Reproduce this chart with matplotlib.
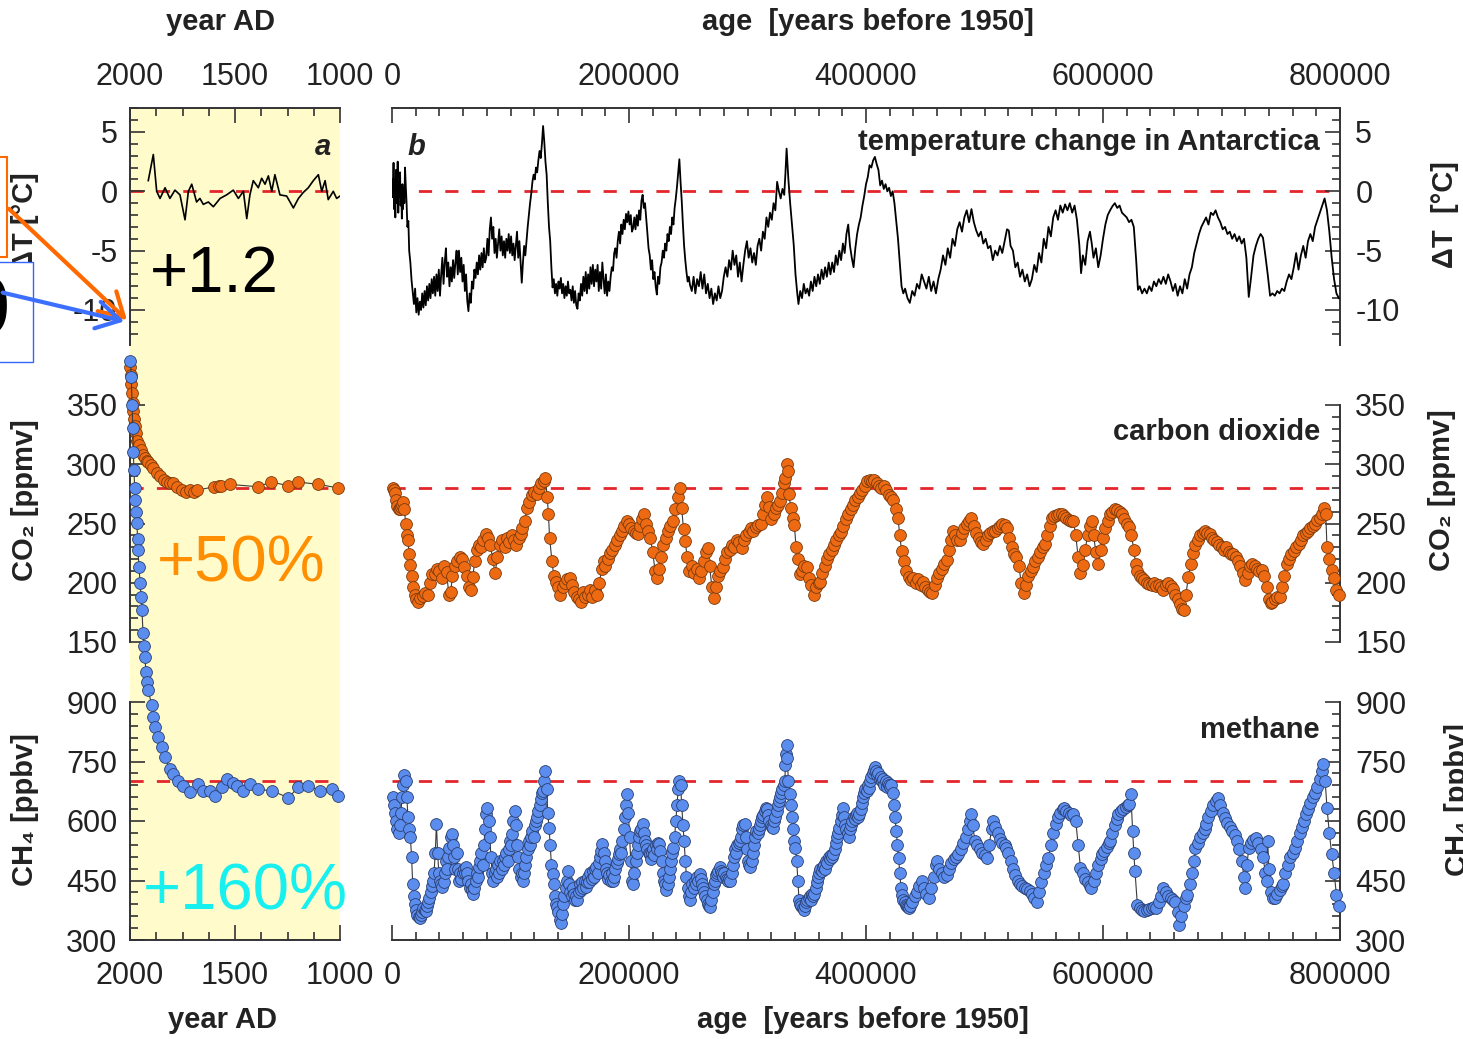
import numpy as np
import matplotlib
matplotlib.use("Agg")
import matplotlib.pyplot as plt
from matplotlib import ticker
from matplotlib.patches import Rectangle, FancyArrowPatch

plt.rcParams['font.family'] = ['Liberation Sans', 'DejaVu Sans']
plt.rcParams['axes.unicode_minus'] = False
plt.rcParams['lines.scale_dashes'] = False

W, H = 1463, 1039

# ---------------- datos ----------------
# panel a: (año AD, valor)
temp_a = [(1913, 0.9), (1889, 3.1), (1873, 0.0), (1857, -0.6), (1833, 0.3), (1810, -0.6),
          (1786, 0.1), (1762, -0.3), (1738, -2.4), (1722, 0.0), (1706, 0.6), (1683, -0.9),
          (1667, -0.6), (1651, -1.1), (1627, -0.9), (1603, -1.3), (1571, -0.6), (1540, -0.3),
          (1508, 0.1), (1484, -0.6), (1460, 0.0), (1444, -2.3), (1429, -0.3), (1413, 0.9),
          (1389, 0.3), (1373, 1.1), (1357, 0.6), (1341, 1.3), (1325, 0.0), (1310, 1.4),
          (1286, -0.3), (1254, -0.4), (1222, -1.4), (1198, -0.6), (1175, -0.1), (1151, 0.3),
          (1127, 0.9), (1103, 1.4), (1087, 0.0), (1071, 0.9), (1056, -0.7), (1032, 0.0),
          (1016, -0.6), (1000, -0.4)]

co2_a = [(2000, 382), (1997, 375), (1994, 368), (1991, 360), (1988, 352), (1985, 345),
         (1982, 338), (1978, 332), (1972, 326), (1966, 320), (1958, 316), (1950, 312),
         (1940, 308), (1930, 305), (1920, 303), (1913, 302), (1900, 299), (1889, 297),
         (1872, 293), (1857, 290), (1840, 287), (1825, 285), (1810, 284), (1794, 284),
         (1775, 281), (1754, 278), (1735, 277), (1714, 278), (1695, 277), (1683, 278),
         (1600, 281), (1576, 282), (1565, 282), (1524, 283), (1389, 281), (1330, 285),
         (1246, 282), (1198, 285), (1103, 283), (1008, 280)]

ch4_a = [(1998, 1760), (1994, 1720), (1990, 1650), (1987, 1590), (1984, 1530), (1981, 1484),
         (1978, 1440), (1975, 1409), (1971, 1380), (1967, 1351), (1964, 1310), (1962, 1283),
         (1957, 1240), (1952, 1200), (1947, 1165), (1943, 1132), (1938, 1074), (1933, 1040),
         (1929, 1013), (1924, 975), (1919, 950), (1913, 930), (1897, 892), (1889, 862),
         (1881, 837), (1865, 811), (1849, 786), (1833, 761), (1810, 731), (1794, 718),
         (1770, 701), (1746, 689), (1714, 672), (1675, 693), (1651, 676), (1619, 676),
         (1595, 663), (1563, 685), (1540, 706), (1508, 697), (1492, 689), (1460, 676),
         (1429, 693), (1389, 680), (1325, 676), (1246, 659), (1198, 685), (1151, 689),
         (1095, 676), (1040, 680), (1008, 663)]

# panel b: (edad en miles de años, valor)
temp_b = [(0.2, 1.0), (0.8, -0.5), (1.3, 2.4), (1.8, -1.5), (2.3, 1.0), (2.8, -2.2), (3.3, 1.8),
          (3.8, -1.0), (4.3, 0.5), (4.8, 2.5), (5.3, -1.8), (5.8, 0.8), (6.3, -0.5), (6.8, 1.6),
          (7.3, -1.2), (7.8, 0.3), (8.3, -2.3), (8.8, 0.6), (9.3, -1.5), (9.8, 0.2), (10.4, -1.0),
          (11.0, 2.0), (11.6, 0.5), (12.3, -1.0), (13.0, -3.0), (13.8, -2.5), (14.5, -5.0),
          (15.5, -6.0), (16.5, -7.5), (17.5, -8.5), (18.5, -9.5), (19.5, -8.2), (20.5, -10.2),
          (21.5, -9.0), (22.5, -10.4), (23.5, -9.3), (24.5, -10.0), (25.5, -8.6), (26.5, -9.8),
          (27.5, -8.4), (28.5, -9.6), (29.5, -8.0), (30.5, -9.2), (31.5, -7.8), (32.5, -9.0),
          (33.5, -7.4), (34.5, -8.6), (35.5, -7.2), (36.5, -8.8), (37.5, -7.0), (38.5, -8.4),
          (39.5, -6.6), (40.5, -8.8), (41.5, -7.0), (42.5, -5.6), (43.5, -7.8), (44.5, -6.0),
          (45.5, -4.8), (46.5, -7.2), (47.5, -6.0), (48.5, -8.0), (49.5, -6.4), (50.5, -7.6),
          (51.5, -5.8), (52.5, -7.3), (53.5, -6.0), (54.5, -5.0), (55.5, -7.0), (56.5, -5.0),
          (57.5, -6.8), (58.5, -5.6), (59.5, -7.6), (60.5, -6.2), (61.5, -8.4), (62.5, -7.0),
          (63.5, -9.2), (64.5, -10.1), (65.5, -8.6), (66.5, -9.4), (67.5, -7.6), (68.5, -8.2),
          (69.5, -6.6), (70.5, -7.3), (71.5, -6.0), (72.5, -7.0), (73.5, -5.4), (74.5, -6.6),
          (75.5, -5.2), (76.5, -6.4), (77.5, -4.8), (78.5, -6.0), (79.5, -5.6), (80.5, -4.0),
          (81.5, -5.4), (82.5, -3.2), (83.5, -2.2), (84.5, -4.0), (85.5, -3.0), (86.5, -5.2),
          (87.5, -4.0), (88.5, -5.6), (89.5, -4.4), (90.5, -3.2), (91.5, -5.0), (92.5, -3.8),
          (93.5, -5.4), (94.5, -4.2), (95.5, -5.6), (96.5, -4.0), (97.5, -5.0), (98.5, -3.6),
          (99.5, -5.2), (100.5, -3.8), (101.5, -5.4), (102.5, -4.4), (103.5, -5.8), (104.5, -4.6),
          (105.5, -3.4), (106.5, -5.6), (107.5, -4.2), (108.5, -6.0), (109.5, -7.7), (110.5, -6.0),
          (111.5, -4.6), (112.5, -5.4), (113.5, -4.2), (114.5, -3.0), (115.5, -2.0), (116.5, -1.0),
          (117.5, -0.2), (118.5, 0.8), (119.5, 1.4), (120.5, 1.0), (121.5, 2.0), (122.5, 1.6),
          (123.5, 2.6), (124.5, 3.4), (125.5, 2.8), (126.5, 4.0), (127.5, 5.5), (128.5, 4.2),
          (129.5, 2.5), (130.5, 1.4), (131.5, -1.0), (132.5, -3.0), (133.5, -4.2), (134.5, -6.4),
          (135.5, -8.1), (136.5, -7.4), (137.5, -8.6), (138.5, -7.8), (139.5, -8.8), (140.5, -7.6),
          (141.5, -8.2), (142.5, -7.3), (143.5, -8.6), (144.5, -7.8), (145.5, -9.0), (146.5, -8.0),
          (147.5, -8.8), (148.5, -7.6), (149.5, -8.6), (150.5, -8.3), (151.5, -9.2), (152.5, -8.0),
          (153.5, -9.4), (154.5, -8.4), (155.5, -9.6), (156.5, -9.9), (157.5, -8.6), (158.5, -9.2),
          (159.5, -7.8), (160.5, -8.8), (161.5, -7.2), (162.5, -8.4), (163.5, -6.8), (164.5, -8.6),
          (165.5, -7.0), (166.5, -8.2), (167.5, -6.4), (168.5, -7.8), (169.5, -6.2), (170.5, -8.0),
          (171.5, -6.6), (172.5, -7.6), (173.5, -6.2), (174.5, -8.4), (175.5, -6.8), (176.5, -8.2),
          (177.5, -6.0), (178.5, -7.4), (179.5, -8.6), (180.5, -7.0), (181.5, -8.8), (182.5, -7.6),
          (183.5, -8.4), (184.5, -7.2), (185.5, -6.4), (186.5, -6.7), (187.5, -5.2), (188.5, -4.8),
          (189.5, -5.6), (190.5, -4.2), (191.5, -3.4), (192.5, -4.4), (193.5, -2.8), (194.5, -3.6),
          (195.5, -2.4), (196.5, -3.2), (197.5, -1.9), (198.5, -2.6), (199.5, -1.7), (200.5, -2.8),
          (201.5, -2.0), (202.5, -3.4), (203.5, -3.1), (204.5, -2.2), (205.5, -3.2), (206.5, -2.0),
          (207.5, -2.9), (208.5, -1.6), (209.5, -2.4), (210.5, -0.8), (211.5, -0.3), (212.5, -1.4),
          (213.5, -1.0), (214.5, -2.2), (215.5, -3.5), (216.5, -4.8), (217.5, -5.4), (218.5, -6.6),
          (219.5, -5.8), (220.5, -7.4), (221.5, -6.8), (222.5, -8.0), (223.5, -8.7), (224.5, -7.2),
          (225.5, -7.8), (226.5, -6.4), (227.5, -6.0), (228.5, -5.0), (229.5, -5.6), (230.5, -4.4),
          (231.5, -5.0), (232.5, -3.6), (233.5, -4.2), (234.5, -3.0), (235.5, -3.6), (236.5, -2.2),
          (237.5, -2.8), (238.5, -1.4), (239.5, -0.6), (240.5, 0.4), (241.5, 1.6), (242.5, 2.7),
          (243.5, 0.8), (244.5, -0.8), (245.5, -2.8), (246.5, -4.6), (247.5, -5.8), (248.5, -6.8),
          (249.5, -7.6), (250.5, -7.2), (251.5, -7.9), (253.0, -8.4), (254.5, -7.2), (256.0, -8.6),
          (257.5, -7.4), (259.0, -8.0), (260.5, -6.8), (262.0, -8.2), (263.5, -7.0), (265.0, -8.6),
          (266.5, -7.8), (268.0, -9.0), (269.5, -8.2), (271.0, -9.5), (272.5, -8.6), (274.0, -9.2),
          (275.5, -8.0), (277.0, -9.0), (278.5, -8.4), (280.0, -7.2), (281.5, -6.4), (283.0, -7.2),
          (284.5, -5.8), (286.0, -6.6), (287.5, -5.0), (289.0, -6.2), (290.5, -5.4), (292.0, -7.2),
          (293.5, -6.0), (295.0, -7.6), (296.5, -6.2), (298.0, -5.0), (299.5, -4.2), (301.0, -5.6),
          (302.5, -4.8), (304.0, -6.0), (305.5, -5.2), (307.0, -6.2), (308.5, -4.6), (310.0, -4.0),
          (311.5, -5.0), (313.0, -3.4), (314.5, -4.0), (316.0, -2.2), (317.5, -3.0), (319.0, -1.8),
          (320.5, -2.4), (322.0, -1.0), (323.5, -1.6), (325.0, 0.8), (326.5, 0.0), (328.0, -0.6),
          (329.5, 0.2), (331.0, -0.3), (332.0, 1.5), (333.0, 3.6), (334.5, 1.0), (336.0, -1.0),
          (337.5, -2.8), (339.0, -4.5), (340.5, -7.0), (342.0, -8.6), (343.0, -9.5), (344.5, -8.4),
          (346.0, -9.0), (347.5, -7.8), (349.0, -8.6), (350.5, -8.2), (352.0, -8.8), (353.5, -7.6),
          (355.0, -8.4), (356.5, -7.2), (358.0, -8.0), (359.5, -7.0), (361.0, -7.8), (362.5, -6.6),
          (364.0, -7.4), (365.5, -6.4), (367.0, -7.2), (368.5, -6.0), (370.0, -7.0), (371.5, -6.0),
          (373.0, -6.8), (374.5, -5.4), (376.0, -6.2), (377.5, -5.0), (379.0, -5.8), (380.5, -4.4),
          (382.0, -5.2), (383.5, -3.6), (385.0, -2.8), (386.5, -4.6), (388.0, -5.6), (389.5, -6.4),
          (391.0, -4.8), (392.5, -3.6), (394.0, -2.8), (395.5, -2.2), (397.0, -1.2), (398.5, -0.4),
          (400.0, 0.6), (401.5, 1.2), (403.0, 2.2), (404.5, 2.0), (406.0, 2.6), (407.5, 2.9),
          (409.0, 2.3), (410.5, 1.8), (412.0, 0.5), (413.5, 0.9), (415.0, 0.2), (416.5, 0.6),
          (418.0, 0.0), (419.5, 0.3), (421.0, -0.4), (422.5, 0.0), (424.0, -1.0), (425.5, -2.5),
          (427.0, -4.0), (428.5, -6.0), (430.0, -8.0), (431.5, -8.6), (433.0, -8.2), (435.0, -9.0),
          (437.0, -9.4), (439, -8.4), (441, -8.8), (443, -7.8), (445, -8.2), (447, -7.0), (449, -7.6),
          (451, -8.2), (453, -7.2), (455, -8.4), (457, -7.6), (459, -8.6), (461, -7.4), (463, -6.6),
          (465, -5.4), (467, -6.2), (469, -4.8), (471, -5.6), (473, -4.0), (475, -4.6), (477, -3.2),
          (479, -2.6), (481, -3.4), (483, -2.2), (485, -1.6), (487, -2.6), (489, -1.5), (491, -2.6),
          (493, -3.3), (495, -3.8), (497, -3.4), (499, -4.4), (501, -4.0), (503, -4.8), (505, -4.6),
          (507, -5.8), (509, -5.0), (511, -5.4), (513, -4.6), (515, -5.2), (517, -4.2), (519, -3.2),
          (520.5, -3.3), (522, -4.6), (524, -5.0), (526, -6.4), (528, -6.0), (530, -7.2), (532, -6.6),
          (534, -7.6), (536, -7.0), (538, -8.0), (540, -7.4), (542, -6.2), (544, -6.8), (546, -5.2),
          (548, -6.0), (550, -4.0), (552, -4.8), (554, -3.0), (556, -3.8), (558, -2.2), (560, -1.6),
          (562, -2.4), (564, -1.2), (566, -1.8), (568, -1.1), (570, -1.6), (572, -1.0), (574, -1.8),
          (576, -1.2), (578, -2.4), (580, -4.5), (581.5, -6.9), (583, -5.4), (585, -6.2), (587, -4.2),
          (589, -3.4), (590.5, -4.4), (592, -5.6), (594, -4.8), (596, -6.4), (598, -5.4), (600, -4.0),
          (602, -2.8), (604, -2.0), (606, -1.6), (608, -1.25), (610, -1.0), (612, -1.4), (614, -1.2),
          (616, -1.8), (618, -2.0), (620, -2.2), (622, -2.6), (624, -2.4), (626, -3.0), (628, -5.8),
          (629.5, -8.3), (631, -8.0), (633, -8.6), (635, -8.2), (637, -8.6), (639, -8.0), (641, -8.4),
          (643, -7.6), (645, -8.0), (647, -7.4), (649, -7.8), (651, -7.2), (653, -7.8), (655, -7.0),
          (657, -7.6), (659, -8.4), (661, -7.8), (663, -8.8), (665, -8.0), (667, -8.6), (669, -7.4),
          (671, -8.2), (673, -7.0), (675, -6.4), (677, -5.2), (679, -4.4), (681, -3.6), (683, -3.0),
          (685, -2.6), (687, -2.2), (689, -2.8), (691, -1.8), (693, -2.0), (695, -1.6), (697, -2.2),
          (699, -2.6), (701, -3.2), (703, -3.0), (705, -3.6), (707, -3.4), (709, -4.0), (711, -3.6),
          (713, -4.2), (715, -3.8), (717, -4.4), (719, -4.0), (721, -5.6), (723, -8.9), (725, -7.2),
          (727, -5.4), (729, -4.6), (731, -4.0), (733, -3.6), (735, -3.9), (737, -5.4), (739, -7.0),
          (741, -8.8), (743, -8.6), (745, -8.8), (747, -8.4), (749, -8.6), (751, -8.2), (753, -8.4),
          (755, -7.6), (757, -7.0), (759, -7.4), (761, -6.4), (763, -5.2), (765, -6.6), (767, -5.4),
          (769, -4.6), (771, -5.6), (773, -4.2), (775, -3.6), (777, -4.2), (779, -3.0), (781, -2.4),
          (783, -1.8), (785, -1.2), (787, -0.6), (789, -1.6), (791, -3.4), (793, -5.6), (795, -7.4),
          (797, -8.6), (799, -9.0)]

co2_b = [(0.5, 280), (1.5, 278), (2.5, 276), (3.5, 270), (4.5, 265), (5.5, 262), (6.5, 262),
         (7.5, 264), (8.5, 266), (9.5, 268), (10.5, 262), (11.5, 250), (12.5, 240), (13.5, 236),
         (14.5, 224), (15.5, 215), (16.5, 206), (17.5, 196), (19, 190), (20.5, 186), (22, 184),
         (24, 187), (26, 189), (28, 191), (30, 190), (32, 200), (34, 207), (36, 207), (38, 212),
         (40, 210), (42, 204), (44, 214), (46, 209), (48, 190), (49.5, 192), (51, 206), (53, 214),
         (55, 218), (57, 222), (59, 220), (61, 213), (63, 206), (65, 196), (66.5, 194), (68, 205),
         (70, 218), (71.5, 228), (73, 232), (75, 230), (77, 236), (79, 241), (81, 238), (83, 232),
         (85, 220), (87, 208), (89, 222), (91, 232), (93, 236), (95, 230), (97, 238), (99, 234),
         (101, 240), (103, 236), (105, 232), (107, 238), (108.5, 241), (110, 246), (112, 252),
         (114, 263), (116, 268), (118, 274), (120, 277), (122, 275), (124, 280), (126, 284),
         (128, 286), (129.5, 288), (131, 272), (132, 258), (133, 238), (135, 218), (136.5, 206),
         (138, 201), (140, 196), (142, 190), (144, 196), (146, 200), (148, 203), (150, 204),
         (152, 198), (154, 192), (156, 188), (158, 186), (159.5, 184), (161, 192), (163, 188),
         (165, 190), (167, 194), (169, 188), (171, 194), (173, 190), (175, 200), (177, 212),
         (178.5, 218), (180, 214), (182, 220), (184, 225), (186, 228), (188, 232), (190, 236),
         (192, 240), (194, 244), (196, 248), (198, 252), (200, 250), (202, 246), (204, 244),
         (206, 242), (207.5, 241), (209, 248), (211, 254), (212.5, 258), (214, 250), (216, 244),
         (218, 238), (220, 226), (222, 210), (223.5, 204), (225, 212), (227, 222), (229, 232),
         (231, 238), (233, 244), (235, 248), (237, 252), (239, 262), (241, 272), (243, 280),
         (244.5, 263), (246, 245), (247.5, 235), (249, 222), (251, 210), (253, 214), (255, 208),
         (257, 212), (259, 204), (261, 210), (263, 218), (265, 226), (266.5, 229), (268, 214),
         (270, 196), (271.5, 187), (273, 196), (275, 206), (277, 210), (279, 213), (281, 220),
         (283, 226), (285, 228), (287, 232), (289, 230), (291, 236), (293, 234), (295, 229),
         (297, 236), (299, 240), (301, 243), (303, 246), (305, 244), (307, 247), (309, 249),
         (311, 250), (313, 258), (315, 266), (316.5, 272), (318, 264), (320, 254), (322, 258),
         (324, 263), (326, 266), (327.5, 269), (329, 276), (331, 284), (332, 288), (333, 300),
         (334, 294), (335, 275), (336.5, 263), (338, 255), (339.5, 249), (341, 230), (342.5, 220),
         (344, 207), (346, 210), (348, 214), (350, 213), (352, 204), (354, 198), (356, 190),
         (358, 196), (360, 200), (361.5, 201), (363, 208), (365, 214), (367, 220), (369, 224),
         (371, 228), (373, 232), (375, 236), (377, 240), (379, 243), (381, 248), (383, 254),
         (385, 258), (387, 262), (389, 266), (391, 270), (393, 272), (395, 276), (397, 278),
         (399, 282), (401, 286), (403, 287), (405, 286), (407, 287), (409, 284), (411, 282),
         (413, 280), (415, 282), (417, 278), (419, 274), (421, 272), (423, 270), (425, 262),
         (427, 255), (428.5, 240), (430, 227), (432, 218), (434, 210), (436, 205), (438, 202),
         (440, 204), (442, 200), (444, 203), (446, 198), (448, 201), (450, 196), (452, 194),
         (454, 192), (456, 191), (458, 198), (460, 204), (462, 208), (464, 212), (466, 216),
         (468, 219), (470, 228), (471.5, 236), (473, 244), (475, 240), (477, 236), (479, 236),
         (481, 242), (483, 246), (485, 250), (487, 252), (489, 255), (491, 248), (493, 242),
         (495, 238), (497, 234), (499, 233), (501, 236), (503, 240), (505, 242), (507, 244),
         (509, 244), (511, 246), (513, 248), (515, 250), (517, 249), (519, 246), (521, 238),
         (523, 230), (525, 224), (527, 222), (529, 214), (531, 200), (533, 191), (535, 198),
         (537, 206), (539, 210), (541, 213), (543, 218), (545, 222), (547, 226), (549, 230),
         (551, 233), (553, 240), (555, 248), (557, 255), (559, 256), (561, 257), (563, 258),
         (565, 258), (567, 256), (569, 255), (571, 253), (573, 252), (575, 252), (577, 240),
         (579, 222), (581, 208), (583, 215), (585, 228), (587, 240), (589, 248), (590.5, 252),
         (592, 240), (594, 226), (596, 216), (598, 228), (600, 238), (602, 246), (604, 252),
         (606, 258), (608, 260), (610, 262), (612, 261), (614, 260), (616, 258), (618, 254),
         (620, 250), (622, 247), (624, 240), (626, 228), (627.5, 216), (629, 210), (631, 206),
         (633, 204), (635, 202), (637, 200), (639, 199), (641, 198), (643, 200), (645, 197),
         (647, 198), (649, 196), (651, 194), (653, 198), (655, 200), (657, 197), (659, 195),
         (661, 190), (663, 186), (665, 182), (667, 178), (668.5, 177), (670, 190), (672, 205),
         (674, 216), (676, 225), (678, 232), (680, 236), (682, 240), (684, 242), (686, 244),
         (688, 242), (690, 241), (692, 238), (694, 236), (696, 234), (698, 232), (700, 230),
         (702, 228), (704, 230), (706, 226), (708, 224), (710, 224), (712, 222), (714, 218),
         (716, 214), (718, 208), (720, 202), (722, 208), (724, 214), (726, 216), (728, 214),
         (730, 212), (732, 210), (734, 211), (736, 206), (738, 196), (740, 186), (741.5, 183),
         (743, 184), (745, 186), (747, 188), (749, 188), (751, 196), (753, 206), (755, 216),
         (757, 220), (759, 224), (761, 227), (763, 230), (765, 233), (767, 236), (769, 240),
         (771, 242), (773, 244), (775, 246), (777, 248), (779, 250), (781, 253), (783, 255),
         (785, 258), (786.5, 263), (788, 258), (789, 230), (791, 220), (793, 211), (795, 204),
         (797, 194), (799, 190)]

ch4_b = [(0.5, 660), (1.5, 640), (2.5, 620), (3.5, 600), (4.5, 580), (5.5, 570), (6.5, 590),
         (7.5, 620), (8.5, 660), (9.5, 690), (10.5, 715), (11.5, 700), (12.5, 660), (13.5, 610),
         (14.5, 580), (15.5, 560), (16.5, 510), (17.5, 440), (18.5, 410), (19.5, 390), (20.5, 375),
         (21.5, 362), (22.5, 358), (23.5, 356), (24.5, 362), (25.5, 370), (26.5, 380), (27.5, 375),
         (28.5, 372), (29.5, 385), (30.5, 395), (31.5, 405), (32.5, 420), (33.5, 435), (34.5, 450),
         (35.5, 470), (36.5, 520), (37.5, 592), (38.5, 520), (39.5, 470), (40.5, 450), (41.5, 440),
         (42.5, 433), (43.5, 445), (44.5, 470), (45.5, 500), (46.5, 480), (47.5, 510), (48.5, 533),
         (49.5, 560), (50.5, 567), (51.5, 540), (52.5, 510), (53.5, 480), (54.5, 520), (55.5, 480),
         (56.5, 450), (57.5, 470), (58.5, 455), (59.5, 470), (60.5, 480), (61.5, 470), (62.5, 483),
         (63.5, 470), (64.5, 450), (65.5, 430), (66.5, 440), (67.5, 425), (68.5, 417), (69.5, 430),
         (70.5, 450), (71.5, 470), (72.5, 460), (73.5, 483), (74.5, 500), (75.5, 520), (76.5, 490),
         (77.5, 540), (78.5, 580), (79.5, 617), (80.5, 633), (81.5, 600), (82.5, 560), (83.5, 510),
         (84.5, 470), (85.5, 450), (86.5, 470), (87.5, 480), (88.5, 460), (89.5, 490), (90.5, 470),
         (91.5, 500), (92.5, 480), (93.5, 500), (94.5, 490), (95.5, 510), (96.5, 520), (97.5, 500),
         (98.5, 530), (99.5, 550), (100.5, 540), (101.5, 567), (102.5, 600), (103.5, 625),
         (104.5, 590), (105.5, 540), (106.5, 510), (107.5, 480), (108.5, 460), (109.5, 470),
         (110.5, 450), (111.5, 470), (112.5, 490), (113.5, 510), (114.5, 530), (115.5, 550),
         (116.5, 540), (117.5, 560), (118.5, 575), (119.5, 560), (120.5, 590), (121.5, 600),
         (122.5, 610), (123.5, 625), (124.5, 640), (125.5, 655), (126.5, 670), (127.5, 675),
         (128.5, 700), (129.5, 725), (130.5, 680), (131.5, 620), (132.5, 583), (133.5, 540),
         (134.5, 490), (135.5, 467), (136.5, 440), (137.5, 410), (138.5, 390), (139.5, 383),
         (140.5, 370), (141.5, 350), (142.5, 342), (143.5, 365), (144.5, 390), (145.5, 410),
         (146.5, 430), (147.5, 450), (148.5, 475), (149.5, 440), (150.5, 420), (151.5, 410),
         (152.5, 430), (153.5, 415), (154.5, 400), (155.5, 410), (156.5, 400), (157.5, 420),
         (158.5, 440), (159.5, 425), (160.5, 445), (161.5, 430), (162.5, 450), (163.5, 433),
         (164.5, 445), (165.5, 460), (166.5, 445), (167.5, 470), (168.5, 455), (169.5, 475),
         (170.5, 460), (171.5, 480), (172.5, 483), (173.5, 470), (174.5, 495), (175.5, 510),
         (176.5, 525), (177.5, 542), (178.5, 520), (179.5, 500), (180.5, 480), (181.5, 470),
         (182.5, 455), (183.5, 465), (184.5, 450), (185.5, 470), (186.5, 450), (187.5, 460),
         (188.5, 480), (189.5, 495), (190.5, 505), (191.5, 517), (192.5, 530), (193.5, 520),
         (194.5, 550), (195.5, 580), (196.5, 610), (197.5, 640), (198.5, 667), (199.5, 620),
         (200.5, 560), (201.5, 500), (202.5, 450), (203.5, 442), (204.5, 470), (205.5, 500),
         (206.5, 520), (207.5, 540), (208.5, 560), (209.5, 575), (210.5, 580), (211.5, 592),
         (212.5, 570), (213.5, 550), (214.5, 540), (215.5, 530), (216.5, 520), (217.5, 517),
         (218.5, 505), (219.5, 520), (220.5, 530), (221.5, 515), (222.5, 540), (223.5, 530),
         (224.5, 545), (225.5, 542), (226.5, 525), (227.5, 500), (228.5, 470), (229.5, 450),
         (230.5, 440), (231.5, 425), (232.5, 440), (233.5, 460), (234.5, 480), (235.5, 500),
         (236.5, 520), (237.5, 533), (238.5, 560), (239.5, 600), (240.5, 640), (241.5, 680),
         (242.5, 700), (243.5, 690), (244.5, 640), (245.5, 590), (246.5, 550), (247.5, 500),
         (248.5, 460), (249.5, 430), (250.5, 410), (251.5, 400), (252.5, 420), (253.5, 440),
         (254.5, 430), (255.5, 450), (256.5, 440), (257.5, 460), (258.5, 450), (259.5, 467),
         (260.5, 455), (261.5, 440), (262.5, 430), (263.5, 420), (264.5, 410), (265.5, 400),
         (266.5, 390), (267.5, 385), (268.5, 383), (269.5, 400), (270.5, 420), (271.5, 440),
         (272.5, 450), (273.5, 465), (274.5, 470), (275.5, 475), (276.5, 483), (277.5, 475),
         (278.5, 470), (279.5, 460), (280.5, 470), (281.5, 460), (282.5, 455), (283.5, 450),
         (284.5, 455), (285.5, 450), (286.5, 470), (287.5, 490), (288.5, 510), (289.5, 530),
         (290.5, 520), (291.5, 540), (292.5, 545), (293.5, 550), (294.5, 560), (295.5, 580),
         (296.5, 590), (297.5, 592), (298.5, 560), (299.5, 530), (300.5, 500), (301.5, 490),
         (302.5, 483), (303.5, 500), (304.5, 520), (305.5, 540), (306.5, 560), (307.5, 575),
         (308.5, 570), (309.5, 580), (310.5, 590), (311.5, 600), (312.5, 610), (313.5, 615),
         (314.5, 625), (315.5, 633), (316.5, 630), (317.5, 615), (318.5, 600), (319.5, 590),
         (320.5, 585), (321.5, 583), (322.5, 600), (323.5, 610), (324.5, 625), (325.5, 640),
         (326.5, 650), (327.5, 660), (328.5, 670), (329.5, 680), (330.5, 690), (331.5, 700),
         (332, 740), (332.5, 770), (333, 792), (333.5, 760), (334.5, 700), (335.5, 667),
         (336.5, 640), (337.5, 610), (338.5, 580), (339.5, 550), (340.5, 533), (341.5, 500),
         (342.5, 450), (343.5, 400), (344.5, 390), (345.5, 385), (346.5, 380), (347.5, 375),
         (348.5, 385), (349.5, 395), (350.5, 400), (351.5, 405), (352.5, 410), (353.5, 400),
         (354.5, 415), (355.5, 410), (356.5, 417), (357.5, 430), (358.5, 445), (359.5, 460),
         (360.5, 470), (361.5, 480), (362.5, 475), (363.5, 483), (364.5, 490), (365.5, 480),
         (366.5, 500), (367.5, 495), (368.5, 510), (369.5, 505), (370.5, 515), (371.5, 510),
         (372.5, 517), (373.5, 530), (374.5, 545), (375.5, 560), (376.5, 570), (377.5, 583),
         (378.5, 600), (379.5, 615), (380.5, 633), (381.5, 610), (382.5, 590), (383.5, 580),
         (384.5, 570), (385.5, 560), (386.5, 580), (387.5, 590), (388.5, 600), (389.5, 610),
         (390.5, 605), (391.5, 615), (392.5, 620), (393.5, 610), (394.5, 617), (395.5, 630),
         (396.5, 645), (397.5, 660), (398.5, 670), (399.5, 680), (400.5, 675), (401.5, 690),
         (402.5, 683), (403.5, 700), (404.5, 710), (405.5, 720), (406.5, 728), (407.5, 735),
         (408.5, 725), (409.5, 715), (410.5, 720), (411.5, 705), (412.5, 710), (413.5, 700),
         (414.5, 705), (415.5, 690), (416.5, 700), (417.5, 685), (418.5, 695), (419.5, 690),
         (420.5, 685), (421.5, 690), (422.5, 670), (423.5, 640), (424.5, 610), (425.5, 575),
         (426.5, 540), (427.5, 507), (428.5, 470), (429.5, 430), (430.5, 414), (431.5, 400),
         (432.5, 395), (433.5, 388), (434.5, 385), (435.5, 383), (436.5, 380), (437.5, 385),
         (439, 395), (441, 410), (443, 420), (445, 435), (447, 448), (449, 430), (451, 415),
         (453, 406), (455, 430), (457, 460), (459, 490), (460, 499), (462, 480), (464, 470),
         (466, 460), (468, 465), (470, 480), (472, 495), (474, 505), (476, 510), (478, 516),
         (480, 530), (482, 545), (484, 560), (486, 580), (488, 600), (489, 617), (490, 590),
         (492, 549), (494, 540), (496, 530), (498, 520), (500, 515), (502, 507), (504, 540),
         (506, 580), (507, 600), (509, 585), (511, 570), (513, 555), (515, 545), (517, 540),
         (518, 532), (520, 520), (522, 500), (524, 480), (526, 465), (528, 448), (530, 440),
         (532, 435), (534, 430), (536, 428), (538, 423), (540, 415), (542, 405), (544, 397),
         (546, 420), (548, 445), (550, 470), (552, 490), (554, 507), (556, 540), (558, 570),
         (560, 592), (562, 610), (564, 620), (566, 630), (567, 634), (569, 625), (571, 620),
         (573, 615), (575, 617), (577, 600), (579, 540), (581, 482), (583, 470), (585, 455),
         (587, 445), (589, 435), (590, 431), (592, 450), (594, 470), (596, 490), (598, 505),
         (599, 516), (601, 525), (603, 535), (605, 545), (606, 549), (608, 570), (610, 590),
         (612, 605), (613, 617), (615, 625), (617, 630), (619, 635), (621, 640), (622, 642),
         (623.5, 668), (625, 575), (626, 520), (627, 473), (629, 389), (631, 380), (633, 375),
         (635, 372), (637, 376), (639, 378), (641, 380), (643, 382), (645, 380), (647, 395),
         (649, 410), (651, 431), (653, 420), (655, 410), (657, 405), (659, 400), (661, 397),
         (663, 370), (664, 338), (666, 360), (668, 385), (670, 405), (671, 414), (673, 440),
         (675, 470), (677, 500), (678, 532), (680, 545), (682, 560), (684, 570), (686, 580),
         (687, 592), (689, 610), (691, 625), (693, 640), (695, 650), (697, 659), (699, 640),
         (701, 620), (703, 608), (705, 595), (707, 585), (709, 575), (711, 565), (713, 549),
         (715, 530), (717, 500), (719, 460), (720, 431), (721.5, 490), (723, 532), (725, 545),
         (727, 552), (729, 558), (731, 545), (733, 530), (735, 510), (737, 470), (738, 448),
         (739, 549), (740, 480), (742, 420), (743.5, 406), (745, 406), (747, 415), (749, 425),
         (751, 435), (752, 440), (754, 470), (756, 490), (758, 510), (760, 520), (762, 532),
         (764, 550), (766, 570), (768, 585), (770, 600), (771, 617), (773, 630), (775, 645),
         (777, 660), (779, 670), (781, 685), (783, 705), (785, 725), (786, 744), (787.5, 700),
         (789, 634), (791, 570), (793, 516), (795, 470), (797, 414), (799, 385)]

# niveles de referencia (lineas rojas discontinuas)
ref_temp, ref_co2, ref_ch4 = 0, 280, 700

# ---------------- figura ----------------
fig = plt.figure(figsize=(W / 100, H / 100), dpi=100)


def px_box(x0, y0, x1, y1):
    return [x0 / W, 1 - y1 / H, (x1 - x0) / W, (y1 - y0) / H]


def ftext(x, y, s, **kw):
    return fig.text(x / W, 1 - y / H, s, **kw)


# fondo amarillo del panel a
fig.add_artist(Rectangle((130 / W, 1 - 940 / H), 210 / W, 832 / H, transform=fig.transFigure,
                         facecolor="#FFFBCB", edgecolor="none", zorder=-1))

ax_aT = fig.add_axes(px_box(130, 108, 340, 345))
ax_aC = fig.add_axes(px_box(130, 405, 340, 642))
ax_aM = fig.add_axes(px_box(130, 702, 340, 940))
ax_bT = fig.add_axes(px_box(392, 108, 1340, 345))
ax_bC = fig.add_axes(px_box(392, 405, 1340, 642))
ax_bM = fig.add_axes(px_box(392, 702, 1340, 940))

spine_col = "#333333"
for ax in [ax_aT, ax_aC, ax_aM, ax_bT, ax_bC, ax_bM]:
    ax.set_facecolor("none")
    for s in ax.spines.values():
        s.set_visible(False)
        s.set_color(spine_col)
        s.set_linewidth(1.4)
    ax.tick_params(which="both", direction="in", color=spine_col, width=1.2,
                   labelsize=22, labelcolor="#222222")
    ax.tick_params(which="major", length=11)
    ax.tick_params(which="minor", length=6)
    ax.tick_params(axis="x", which="both", bottom=False, top=False,
                   labelbottom=False, labeltop=False)

# ejes x
for ax in [ax_aT, ax_aC, ax_aM]:
    ax.set_xlim(2000, 1000)
    ax.xaxis.set_major_locator(ticker.MultipleLocator(500))
    ax.xaxis.set_minor_locator(ticker.MultipleLocator(125))
for ax in [ax_bT, ax_bC, ax_bM]:
    ax.set_xlim(0, 800000)
    ax.xaxis.set_major_locator(ticker.MultipleLocator(200000))
    ax.xaxis.set_minor_locator(ticker.MultipleLocator(20000))
    ax.xaxis.set_major_formatter(ticker.StrMethodFormatter("{x:.0f}"))

for ax in [ax_aT, ax_bT]:
    ax.spines["top"].set_visible(True)
    ax.tick_params(axis="x", which="both", top=True, labeltop=True, pad=11.5)
for ax in [ax_aM, ax_bM]:
    ax.spines["bottom"].set_visible(True)
    ax.tick_params(axis="x", which="both", bottom=True, labelbottom=True, pad=15)

# ejes y
for ax in [ax_aT, ax_bT]:
    ax.set_ylim(-12.95, 7.02)
    ax.yaxis.set_major_locator(ticker.MultipleLocator(5))
    ax.yaxis.set_minor_locator(ticker.MultipleLocator(1))
for ax in [ax_aC, ax_bC]:
    ax.set_ylim(150, 350)
    ax.yaxis.set_major_locator(ticker.MultipleLocator(50))
    ax.yaxis.set_minor_locator(ticker.MultipleLocator(10))
for ax in [ax_aM, ax_bM]:
    ax.set_ylim(300, 900)
    ax.yaxis.set_major_locator(ticker.MultipleLocator(150))
    ax.yaxis.set_minor_locator(ticker.MultipleLocator(30))

for ax in [ax_aT, ax_aC, ax_aM]:
    ax.spines["left"].set_visible(True)
    ax.tick_params(axis="y", which="both", left=True, right=False,
                   labelleft=True, labelright=False, pad=9)
for ax in [ax_bT, ax_bC, ax_bM]:
    ax.spines["right"].set_visible(True)
    ax.tick_params(axis="y", which="both", left=False, right=True,
                   labelleft=False, labelright=True, pad=11)

# lineas de referencia
dash_kw = dict(color="#E3262B", lw=2.0, dashes=(9.5, 9.5), zorder=1)
for ax in [ax_aT, ax_bT]:
    ax.axhline(ref_temp, **dash_kw)
for ax in [ax_aC, ax_bC]:
    ax.axhline(ref_co2, **dash_kw)
for ax in [ax_aM, ax_bM]:
    ax.axhline(ref_ch4, **dash_kw)

# series
co2_kw = dict(marker="o", ls="-", color="#3a3a3a", lw=0.8, ms=8.5,
              mfc="#EE6A12", mec="#7a3a0c", mew=0.6, zorder=3, clip_on=False)
ch4_kw = dict(marker="o", ls="-", color="#3a3a3a", lw=0.8, ms=8.5,
              mfc="#5B8DEF", mec="#2a3f70", mew=0.6, zorder=3, clip_on=False)

yr, v = np.array(temp_a).T
ax_aT.plot(yr, v, color="black", lw=1.2, zorder=3)
yr, v = np.array(co2_a).T
ax_aC.plot(yr, v, **co2_kw)
yr, v = np.array(ch4_a).T
ax_aM.plot(yr, v, **ch4_kw)

age, v = np.array(temp_b).T
ax_bT.plot(age * 1000, v, color="black", lw=1.3, zorder=3)
age, v = np.array(co2_b).T
ax_bC.plot(age * 1000, v, **co2_kw)
age, v = np.array(ch4_b).T
ax_bM.plot(age * 1000, v, **ch4_kw)

# textos de ejes
bold = dict(fontsize=21, fontweight="bold", color="#222222")
ftext(220, 22, "year AD", ha="center", va="center", **bold)
ftext(868, 22, "age  [years before 1950]", ha="center", va="center", **bold)
ftext(222, 1020, "year AD", ha="center", va="center", **bold)
ftext(863, 1020, "age  [years before 1950]", ha="center", va="center", **bold)

ftext(25, 222, "ΔT [°C]", ha="center", va="center", rotation=90, **bold)
ftext(25, 500, "CO₂ [ppmv]", ha="center", va="center", rotation=90, **bold)
ftext(25, 810, "CH₄ [ppbv]", ha="center", va="center", rotation=90, **bold)
ftext(1445, 215, "ΔT  [°C]", ha="center", va="center", rotation=90, **bold)
ftext(1442, 490, "CO₂ [ppmv]", ha="center", va="center", rotation=90, **bold)
ftext(1458, 800, "CH₄ [ppbv]", ha="center", va="center", rotation=90, **bold)

ftext(1320, 150, "temperature change in Antarctica", ha="right", va="baseline", **bold)
ftext(1320, 440, "carbon dioxide", ha="right", va="baseline", **bold)
ftext(1320, 738, "methane", ha="right", va="baseline", **bold)
ftext(323, 155, "a", ha="center", va="baseline", fontstyle="italic", **bold)
ftext(416, 155, "b", ha="center", va="baseline", fontstyle="italic", **bold)

# anotaciones grandes
ftext(150, 292, "+1.2", ha="left", va="baseline", fontsize=47, color="black")
ftext(157, 581, "+50%", ha="left", va="baseline", fontsize=47, color="#FF8F00")
ftext(143, 910, "+160%", ha="left", va="baseline", fontsize=47, color="#18F0F0")

# recuadros recortados a la izquierda y flechas
fig.add_artist(Rectangle((-60 / W, 1 - 257 / H), 67 / W, 100 / H, transform=fig.transFigure,
                         facecolor="white", edgecolor="#FF6A00", lw=1.5, zorder=4))
fig.add_artist(Rectangle((-60 / W, 1 - 362 / H), 93 / W, 100 / H, transform=fig.transFigure,
                         facecolor="white", edgecolor="#3366FF", lw=1.0, zorder=4))
ftext(10, 312, "0", ha="right", va="center", fontsize=60, fontweight="bold",
      color="black", zorder=5)
fig.add_artist(FancyArrowPatch((7 / W, 1 - 207 / H), (129 / W, 1 - 322 / H),
                               transform=fig.transFigure, arrowstyle="->,head_length=0.6,head_width=0.35",
                               mutation_scale=28, color="#FF6A00", lw=3, zorder=6))
fig.add_artist(FancyArrowPatch((0 / W, 1 - 292 / H), (127 / W, 1 - 322 / H),
                               transform=fig.transFigure, arrowstyle="->,head_length=0.6,head_width=0.35",
                               mutation_scale=28, color="#3D6FFF", lw=3, zorder=6))

fig.savefig("out.png", dpi=100)
print("ok")
